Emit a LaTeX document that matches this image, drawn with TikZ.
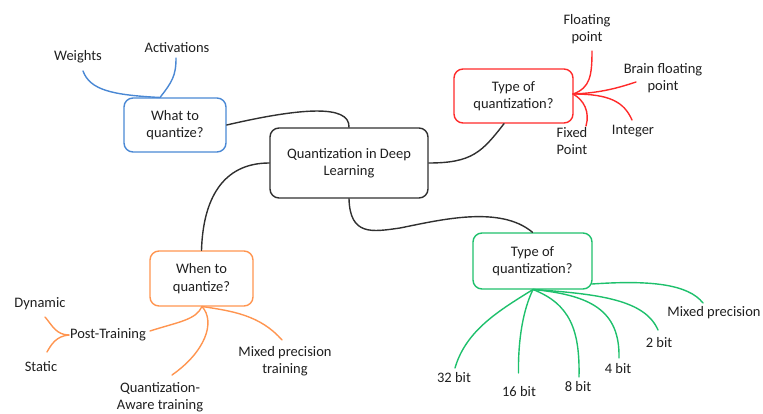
\documentclass[tikz,border=0pt]{standalone}
\usepackage{fontspec}
\setmainfont{Carlito}
\begin{document}
\begin{tikzpicture}[x=1pt,y=-1pt,
  box/.style={draw, line width=1.4pt, rounded corners=9pt, align=center, inner sep=0pt, font=\fontsize{14.5}{17.5}\selectfont, text=black!88},
  lbl/.style={align=center, inner sep=1pt, font=\fontsize{14.5}{17.5}\selectfont, text=black!88},
  cn/.style={line width=1.4pt, line cap=round},
]
\definecolor{cblue}{HTML}{4A88D4}
\definecolor{cred}{HTML}{FF2A2A}
\definecolor{corange}{HTML}{FF9550}
\definecolor{cgreen}{HTML}{1EC06C}
\definecolor{cdark}{HTML}{303030}
\useasboundingbox (0,0) rectangle (763,414);

% boxes
\node[box, draw=cdark, minimum width=158pt, minimum height=70pt] (main) at (349,163) {Quantization in Deep\\Learning};
\node[box, draw=cblue, minimum width=102pt, minimum height=54pt] (what) at (175,125) {What to\\quantize?};
\node[box, draw=cred, minimum width=119pt, minimum height=54pt] (typeA) at (513.5,96) {Type of\\quantization?};
\node[box, draw=corange, minimum width=103pt, minimum height=55pt] (when) at (201.5,278.5) {When to\\quantize?};
\node[box, draw=cgreen, minimum width=119pt, minimum height=56pt] (typeB) at (532.5,261) {Type of\\quantization?};

% labels
\node[lbl] (weights) at (78,57) {Weights};
\node[lbl] (activ) at (177,48) {Activations};
\node[lbl] (float) at (587,29) {Floating\\point};
\node[lbl] (brain) at (663,78) {Brain floating\\point};
\node[lbl] (integer) at (633,131) {Integer};
\node[lbl] (fixed) at (572,141) {Fixed\\Point};
\node[lbl] (dynamic) at (40,304) {Dynamic};
\node[lbl] (post) at (108,335) {Post-Training};
\node[lbl] (static) at (41,367) {Static};
\node[lbl] (qat) at (160,397) {Quantization-\\Aware training};
\node[lbl] (mpt) at (285,361) {Mixed precision\\training};
\node[lbl] (b32) at (454,378) {32 bit};
\node[lbl] (b16) at (519,392) {16 bit};
\node[lbl] (b8) at (578,387) {8 bit};
\node[lbl] (b4) at (618,369) {4 bit};
\node[lbl] (b2) at (659,343) {2 bit};
\node[lbl] (mixp) at (714,313) {Mixed precision};

% junctions and free ends
\coordinate (jb) at (160,97.5);
\coordinate (jr) at (573,94);
\coordinate (jo) at (202,306.5);
\coordinate (jg) at (533,289.5);
\coordinate (jp) at (69,335);
\coordinate (eW) at (83,71);
\coordinate (eA) at (176,58);
\coordinate (eF) at (592,51);
\coordinate (eB) at (636,82);
\coordinate (eI) at (632,120);
\coordinate (eX) at (586,126);
\coordinate (eD) at (45,317);
\coordinate (eS) at (47,352);
\coordinate (eP) at (150,331);
\coordinate (eQ) at (172,375);
\coordinate (eM) at (282,340);
\coordinate (e32) at (455,368);
\coordinate (e16) at (518.5,373);
\coordinate (e8) at (579,377);
\coordinate (e4) at (619,358);
\coordinate (e2) at (658,330);
\coordinate (eMP) at (703,303);
\coordinate (gc) at (592,284);
\coordinate (k1) at (400,228);

% black connectors
\draw[cn, cdark] (main.north) .. controls (350,104) and (300,108) .. (what.east);
\draw[cn, cdark] (main.east) .. controls (472,163) and (482,152) .. (typeA.south -| 504,0);
\draw[cn, cdark] (main.west) .. controls (222,163) and (203,200) .. (when.north);
\draw[cn, cdark] (main.south) .. controls (350,236) and (372,232) .. (k1) .. controls (440,220) and (500,205) .. (typeB.north);

% blue
\draw[cn, cblue] (jb) .. controls (112,95) and (90,90) .. (eW);
\draw[cn, cblue] (jb) .. controls (172,82) and (176,76) .. (eA);

% red
\draw[cn, cred] (jr) .. controls (590,88) and (592,76) .. (eF);
\draw[cn, cred] (jr) .. controls (600,93) and (618,88) .. (eB);
\draw[cn, cred] (jr) .. controls (610,94) and (624,102) .. (eI);
\draw[cn, cred] (jr) .. controls (584,100) and (590,112) .. (eX);

% orange
\draw[cn, corange] (jo) .. controls (196,320) and (178,322) .. (eP);
\draw[cn, corange] (jo) .. controls (216,322) and (205,352) .. (eQ);
\draw[cn, corange] (jo) .. controls (232,311) and (260,315) .. (eM);
\draw[cn, corange] (jp) .. controls (56,335) and (52,325) .. (eD);
\draw[cn, corange] (jp) .. controls (56,336) and (51,345) .. (eS);

% green
\draw[cn, cgreen] (gc) .. controls (650,280) and (688,284) .. (eMP);
\draw[cn, cgreen] (jg) .. controls (600,294) and (645,300) .. (e2);
\draw[cn, cgreen] (jg) .. controls (590,295) and (620,310) .. (e4);
\draw[cn, cgreen] (jg) .. controls (570,304) and (580,330) .. (e8);
\draw[cn, cgreen] (jg) .. controls (523,310) and (518,340) .. (e16);
\draw[cn, cgreen] (jg) .. controls (500,310) and (466,330) .. (e32);
\end{tikzpicture}
\end{document}
